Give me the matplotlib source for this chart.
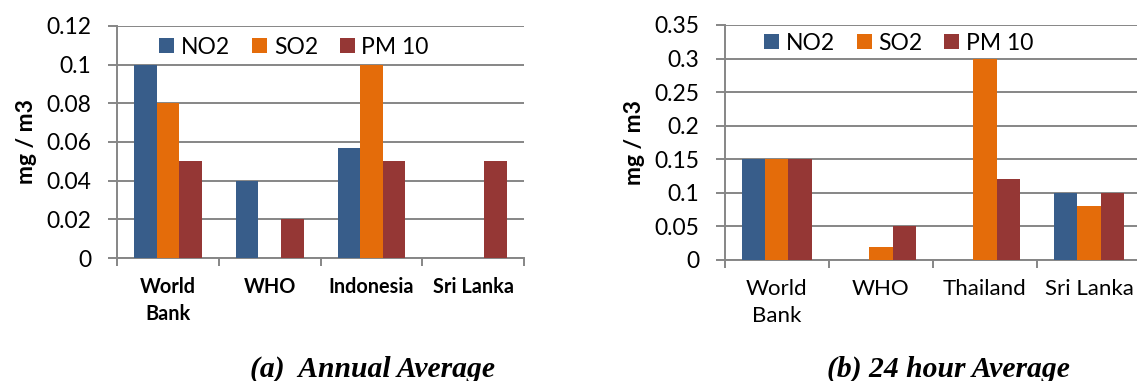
import numpy as np
import matplotlib
matplotlib.use("Agg")
import matplotlib.pyplot as plt

# annual average (mg/m3)
cats_a = ["World\nBank", "WHO", "Indonesia", "Sri Lanka"]
no2_a = [0.1, 0.04, 0.057, 0]
so2_a = [0.08, 0, 0.1, 0]
pm10_a = [0.05, 0.02, 0.05, 0.05]

# 24 hour average (mg/m3)
cats_b = ["World\nBank", "WHO", "Thailand", "Sri Lanka"]
no2_b = [0.15, 0, 0, 0.1]
so2_b = [0.15, 0.02, 0.3, 0.08]
pm10_b = [0.15, 0.05, 0.12, 0.1]

series = ["NO2", "SO2", "PM 10"]
colors = ["#385D8A", "#E46C0A", "#953735"]
grey = "#868686"

plt.rcParams['font.family'] = ['Lato', 'DejaVu Sans']

fig = plt.figure(figsize=(11.37, 3.81), dpi=100)


def bar_panel(ax, cats, vals, ymax, ystep, bold_x, xfs, leg_x, leg_y):
    x = np.arange(len(cats))
    w = 0.222
    for i, (v, c, name) in enumerate(zip(vals, colors, series)):
        ax.bar(x + (i - 1) * w, v, w, color=c, label=name, linewidth=0, zorder=3)
    ax.set_xlim(-0.5, len(cats) - 0.5)
    ax.set_ylim(0, ymax)
    yt = np.arange(0, ymax + ystep / 2, ystep)
    ax.set_yticks(yt)
    ax.set_yticklabels(["0"] + ["%g" % t for t in yt[1:]], fontsize=16.5)
    ax.grid(axis='y', color=grey, linewidth=1.4, zorder=0)
    ax.set_axisbelow(True)
    ax.set_xticks(x)
    ax.set_xticklabels(cats, fontsize=xfs,
                       fontweight='bold' if bold_x else 'normal', linespacing=1.4)
    ax.tick_params(axis='x', length=0, pad=14)
    ax.set_xticks(np.arange(len(cats) + 1) - 0.5, minor=True)
    ax.tick_params(axis='x', which='minor', length=5.5, width=1.4, color=grey)
    ax.tick_params(axis='y', length=6.5, width=1.4, color=grey, pad=12)
    for s in ['top', 'right']:
        ax.spines[s].set_visible(False)
    for s in ['left', 'bottom']:
        ax.spines[s].set_color(grey)
        ax.spines[s].set_linewidth(1.4)
    ax.set_ylabel("mg / m3", fontsize=16.5, fontweight='bold', labelpad=7)
    ax.legend(loc='center left', bbox_to_anchor=(leg_x, leg_y), ncol=3, frameon=False,
              fontsize=16.5, borderpad=0, borderaxespad=0, handlelength=0.65,
              handleheight=0.65, handletextpad=0.3, columnspacing=0.95)


ax1 = fig.add_axes([0.1029, 0.3228, 0.358, 0.609])
bar_panel(ax1, cats_a, [no2_a, so2_a, pm10_a], 0.12, 0.02, True, 14.3, 0.104, 0.909)

ax2 = fig.add_axes([0.6376, 0.3176, 0.3659, 0.6168])
bar_panel(ax2, cats_b, [no2_b, so2_b, pm10_b], 0.35, 0.05, False, 16, 0.094, 0.923)

fig.text(372 / 1137, 0.066, "(a)  Annual Average", family='Liberation Serif',
         fontsize=21.3, fontweight='bold', style='italic', ha='center', va='top')
fig.text(948 / 1137, 0.066, "(b) 24 hour Average", family='Liberation Serif',
         fontsize=21.3, fontweight='bold', style='italic', ha='center', va='top')

fig.savefig("out.png", dpi=100)
